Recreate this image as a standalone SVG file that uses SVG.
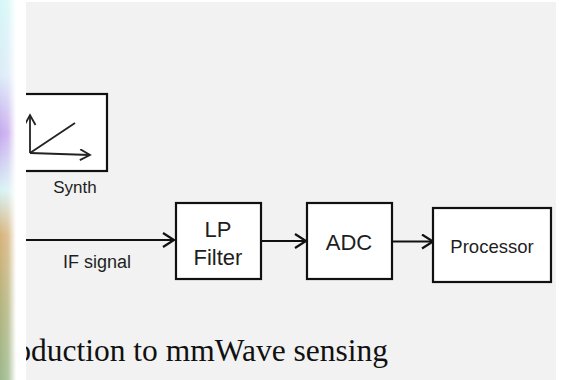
<svg xmlns="http://www.w3.org/2000/svg" width="564" height="380" viewBox="0 0 564 380">
  <defs>
    <linearGradient id="strip" x1="0" y1="0" x2="0" y2="1">
      <stop offset="0" stop-color="#d6f7f7"/>
      <stop offset="0.2" stop-color="#dcebf8"/>
      <stop offset="0.35" stop-color="#c6a8ee"/>
      <stop offset="0.5" stop-color="#d8f2f4"/>
      <stop offset="0.62" stop-color="#d6b27a"/>
      <stop offset="0.8" stop-color="#b4b47e"/>
      <stop offset="1" stop-color="#9cb88c"/>
    </linearGradient>
    <linearGradient id="fade" x1="0" y1="0" x2="1" y2="0">
      <stop offset="0" stop-color="#ffffff" stop-opacity="0"/>
      <stop offset="0.5" stop-color="#ffffff" stop-opacity="0.2"/>
      <stop offset="1" stop-color="#ffffff" stop-opacity="1"/>
    </linearGradient>
    <clipPath id="panel">
      <rect x="26" y="2" width="530" height="378"/>
    </clipPath>
    <marker id="arr" markerWidth="16" markerHeight="18" refX="12" refY="8" orient="auto" markerUnits="userSpaceOnUse">
      <path d="M1,1 L12,8 L1,15" fill="none" stroke="#111" stroke-width="2.2"/>
    </marker>
    <marker id="sarr" markerWidth="14" markerHeight="14" refX="11" refY="6" orient="auto" markerUnits="userSpaceOnUse">
      <path d="M1,0.5 L11,6 L1,11.5" fill="none" stroke="#222" stroke-width="1.8"/>
    </marker>
  </defs>
  <style>
    .box { fill: #ffffff; stroke: #111111; stroke-width: 2.2; }
    .lbl { font-family: "Liberation Sans", Arial, sans-serif; fill: #1e1e1e; text-anchor: middle; }
    .wire { stroke: #111111; stroke-width: 2.2; fill: none; }
    .ax { stroke: #222222; stroke-width: 1.8; fill: none; }
  </style>

  <rect x="0" y="0" width="564" height="380" fill="#ffffff"/>
  <rect x="0" y="0" width="16" height="380" fill="url(#strip)"/>
  <rect x="0" y="0" width="16" height="380" fill="url(#fade)"/>
  <rect x="26" y="2" width="530" height="378" fill="#f2f2f2"/>

  <g clip-path="url(#panel)">
    <g id="synth">
      <rect class="box" x="12" y="94" width="95" height="77"/>
      <line class="ax" x1="30" y1="153" x2="30" y2="115" marker-end="url(#sarr)"/>
      <line class="ax" x1="30" y1="153" x2="90" y2="155" marker-end="url(#sarr)"/>
      <line class="ax" x1="30" y1="153" x2="75" y2="123"/>
      <text class="lbl" x="75" y="193" font-size="17">Synth</text>
    </g>

    <g id="connectors">
      <line class="wire" x1="20" y1="240" x2="174" y2="240" marker-end="url(#arr)"/>
      <line class="wire" x1="261" y1="241" x2="306" y2="241" marker-end="url(#arr)"/>
      <line class="wire" x1="392" y1="241.5" x2="433" y2="241.5" marker-end="url(#arr)"/>
    </g>
    <text class="lbl" x="97" y="268" font-size="18">IF signal</text>

    <g id="lp-filter">
      <rect class="box" x="176" y="203" width="85" height="76"/>
      <text class="lbl" x="218" y="237" font-size="22">LP</text>
      <text class="lbl" x="218" y="265" font-size="22">Filter</text>
    </g>

    <g id="adc">
      <rect class="box" x="307" y="203" width="85" height="76"/>
      <text class="lbl" x="349" y="250" font-size="22">ADC</text>
    </g>

    <g id="processor">
      <rect class="box" x="433" y="208" width="118" height="74"/>
      <text class="lbl" x="492" y="253" font-size="18.5">Processor</text>
    </g>

    <text x="388" y="361" font-family="'Liberation Serif', Georgia, serif" font-size="31.5" fill="#111111" text-anchor="end">Introduction to mmWave sensing</text>
  </g>
</svg>
